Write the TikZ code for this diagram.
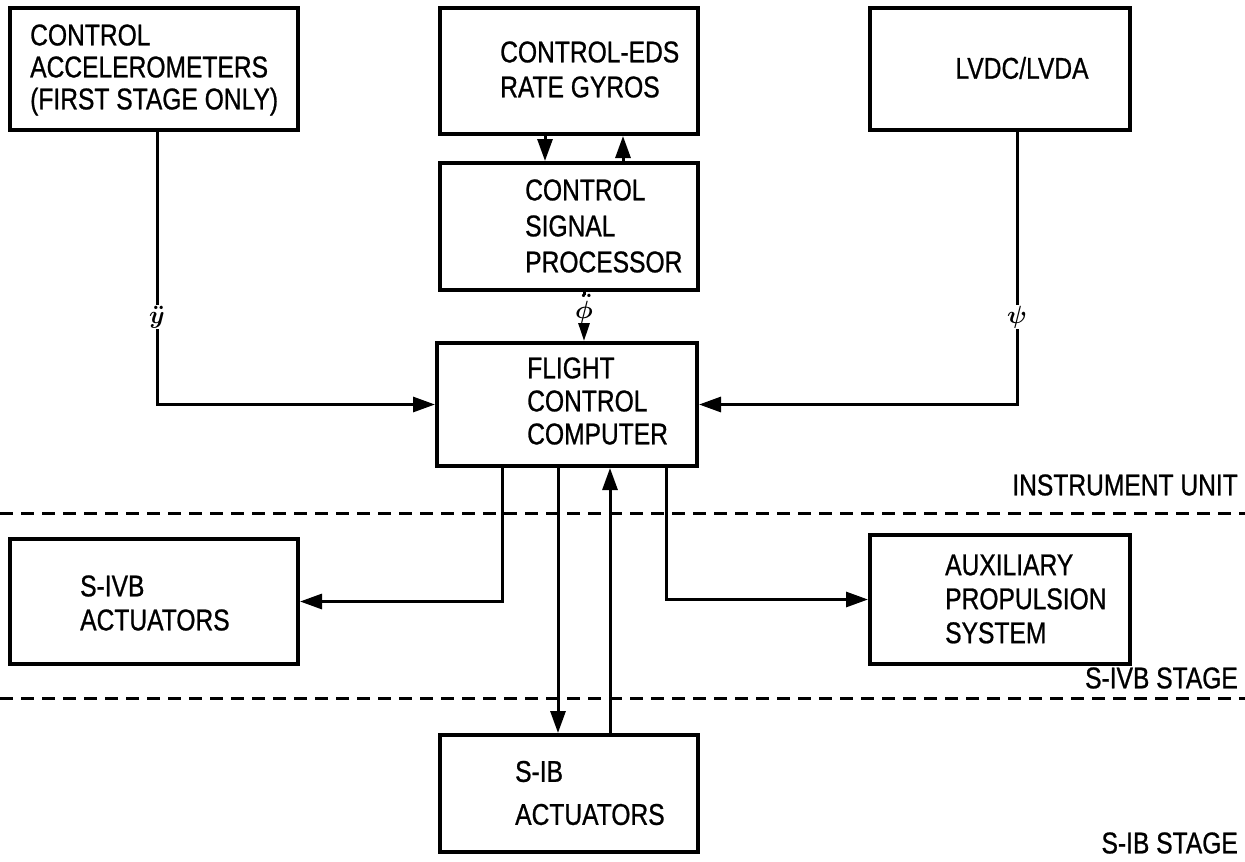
\documentclass[tikz,border=0pt]{standalone}
\usepackage{amsmath}
\usepackage{fontspec}
\setmainfont{Liberation Sans}[FakeStretch=0.82,FakeBold=0.8]
\usetikzlibrary{arrows.meta}
\begin{document}
\begin{tikzpicture}[x=1pt,y=-1pt,
 box/.style={draw, line width=4pt, inner sep=0},
 txt/.style={anchor=west, align=left, inner sep=0, font=\fontsize{30}{33}\selectfont},
 conn/.style={line width=3pt, -{Triangle[length=22pt,width=15pt]}},
 lbl/.style={fill=white, inner sep=1pt, font=\fontsize{28}{28}\selectfont},
 sepline/.style={line width=3pt, dash pattern=on 13pt off 8pt},
 stagelbl/.style={anchor=east, inner sep=0, font=\fontsize{30}{30}\selectfont}]
\useasboundingbox (0,0) rectangle (1245,862);
\fill[white] (0,0) rectangle (1245,862);

% boxes
\node[box, minimum width=288pt, minimum height=122pt] (acc) at (154,69) {};
\node[box, minimum width=258pt, minimum height=126pt] (gyro) at (569,71) {};
\node[box, minimum width=260pt, minimum height=122pt] (lvdc) at (1000,69) {};
\node[box, minimum width=258pt, minimum height=127pt] (csp) at (569,226.5) {};
\node[box, minimum width=260pt, minimum height=123pt] (fcc) at (567,404.5) {};
\node[box, minimum width=288pt, minimum height=125pt] (s4b) at (154,601.5) {};
\node[box, minimum width=260pt, minimum height=129pt] (aps) at (1000,599.5) {};
\node[box, minimum width=258pt, minimum height=117pt] (s1b) at (569,793.5) {};

% box texts
\node[txt, font=\fontsize{30}{32}\selectfont] (tacc) at (30,70) {CONTROL\\ACCELEROMETERS\\(FIRST STAGE ONLY)};
\node[txt, font=\fontsize{30}{35}\selectfont] (tgyro) at (500,69.5) {CONTROL-EDS\\RATE GYROS};
\node[txt, anchor=center] (tlvdc) at (1022,68) {LVDC/LVDA};
\node[txt, font=\fontsize{30}{36}\selectfont] (tcsp) at (525,226) {CONTROL\\SIGNAL\\PROCESSOR};
\node[txt] (tfcc) at (527,401) {FLIGHT\\CONTROL\\COMPUTER};
\node[txt, font=\fontsize{30}{34}\selectfont] (ts4b) at (80,603) {S-IVB\\ACTUATORS};
\node[txt, font=\fontsize{30}{34}\selectfont] (taps) at (945,599) {AUXILIARY\\PROPULSION\\SYSTEM};
\node[txt, font=\fontsize{30}{43}\selectfont] (ts1b) at (515,793) {S-IB\\ACTUATORS};

% stage separators
\coordinate (d1l) at (0,513);
\coordinate (d1r) at (1245,513);
\coordinate (d2l) at (0,698);
\coordinate (d2r) at (1245,698);
\draw[sepline] (d1l) -- (d1r);
\draw[sepline] (d2l) -- (d2r);
\node[stagelbl] (liu) at (1238,485) {INSTRUMENT UNIT};
\node[stagelbl] (ls4b) at (1238,678) {S-IVB STAGE};
\node[stagelbl] (ls1b) at (1238,843) {S-IB STAGE};

% connectors
\draw[conn] ([xshift=3pt]acc.south) |- node[lbl, pos=0.34] (lyy) {$\boldsymbol{\ddot{y}}$} (fcc.west);
\draw[conn] ([xshift=17pt]lvdc.south) |- node[lbl, pos=0.34] (lpsi) {$\boldsymbol{\psi}$} (fcc.east);
\draw[conn] ([xshift=-24pt]gyro.south) -- ([xshift=-24pt]csp.north);
\draw[conn] ([xshift=54pt]csp.north) -- ([xshift=54pt]gyro.south);
\draw[conn, -{Triangle[length=24pt,width=15pt]}] ([xshift=15pt]csp.south) -- ([xshift=17pt]fcc.north);
\node[fill=white, inner sep=0, font=\fontsize{24}{24}\selectfont, anchor=north] (lphi) at ([xshift=15pt,yshift=-2.5pt]csp.south) {$\boldsymbol{\ddot{\phi}}$};
\draw[conn] ([xshift=-65pt]fcc.south) |- (s4b.east);
\draw[conn] ([xshift=99pt]fcc.south) |- (aps.west);
\draw[conn] ([xshift=-9pt]fcc.south) -- ([xshift=-11pt]s1b.north);
\draw[conn] ([xshift=41pt]s1b.north) -- ([xshift=43pt]fcc.south);
\end{tikzpicture}
\end{document}
